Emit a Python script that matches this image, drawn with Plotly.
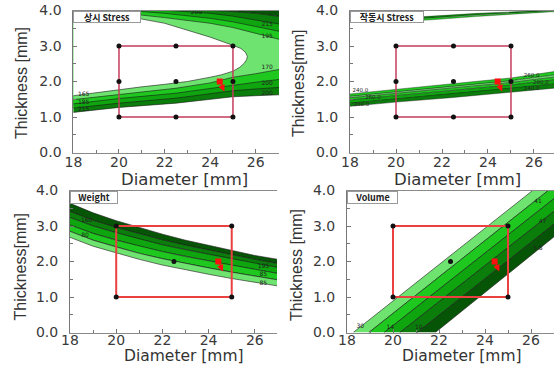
import plotly.graph_objects as go

# ---------------- colours ----------------
LIGHT = '#6fe36f'
BRIGHT = '#1fc81f'
MID = '#0fa50f'
DARK = '#0b7d0b'
DARKEST = '#065506'
EDGE = '#1a1a1a'

# ---------------- axis ticks ----------------
xtick_vals = [18, 20, 22, 24, 26]
xtick_text = ['18', '20', '22', '24', '26']
ytick_vals = [0, 1, 2, 3, 4]
ytick_text = ['0.0', '1.0', '2.0', '3.0', '4.0']

# ---------------- panel titles ----------------
panel_titles = ['상시 Stress', '작동시 Stress', 'Weight', 'Volume']
ytitles = ['Thickness [mm]', 'Thickness[mm]', 'Thickness[mm]', 'Thickness [mm]']
xtitle = 'Diameter [mm]'

# ---------------- design points ----------------
box_x = [20, 25]
box_y = [1, 3]
grid_x_top = [20, 22.5, 25, 20, 22.5, 25, 20, 22.5, 25]
grid_y_top = [1, 1, 1, 2, 2, 2, 3, 3, 3]
grid_x_bot = [20, 25, 22.5, 20, 25]
grid_y_bot = [1, 1, 2, 3, 3]
opt_x = [24.42]
opt_y = [2.0]
opt_arrow_x = [24.45, 24.62]
opt_arrow_y = [1.96, 1.72]

# ---------------- panel 1 : 상시 Stress (C-shaped contours) ----------------
p1_c0_x = [18, 19, 20, 21, 22, 22.5, 23, 24, 24.5, 25, 25.3, 25.5, 25.6, 25.63, 25.55, 25.35,
           25.0, 24, 23, 22, 21, 20, 19.3]
p1_c0_y = [1.60, 1.69, 1.78, 1.85, 1.92, 1.95, 2.00, 2.12, 2.19, 2.29, 2.40, 2.52, 2.62, 2.71, 2.82, 2.93,
           3.02, 3.25, 3.45, 3.64, 3.76, 3.88, 4.0]
p1_c1_lo_x = [18, 20, 22.5, 24, 25, 26, 27.2]
p1_c1_lo_y = [1.49, 1.64, 1.81, 1.96, 2.12, 2.22, 2.36]
p1_c1_up_x = [27.2, 26, 25, 24, 23, 22, 21, 20, 19.5]
p1_c1_up_y = [3.16, 3.36, 3.52, 3.64, 3.73, 3.80, 3.87, 3.95, 4.0]
p1_c2_lo_x = [18, 20, 22.5, 25, 26, 27.2]
p1_c2_lo_y = [1.37, 1.52, 1.67, 1.90, 1.98, 2.07]
p1_c2_up_x = [27.2, 26, 25, 24, 23, 22, 21, 20.5]
p1_c2_up_y = [3.39, 3.55, 3.68, 3.78, 3.86, 3.92, 3.97, 4.0]
p1_c3_lo_x = [18, 20, 22.5, 25, 26, 27.2]
p1_c3_lo_y = [1.25, 1.39, 1.53, 1.74, 1.79, 1.84]
p1_c3_up_x = [27.2, 26, 25, 24, 23, 22.2]
p1_c3_up_y = [3.60, 3.74, 3.84, 3.92, 3.97, 4.0]
p1_c4_lo_x = [18, 20, 22.5, 25, 26, 27.2]
p1_c4_lo_y = [1.13, 1.27, 1.39, 1.57, 1.60, 1.63]
p1_c4_up_x = [27.2, 26, 25, 24.2]
p1_c4_up_y = [3.82, 3.92, 3.97, 4.0]
p1_lab_x = [18.45, 18.45, 18.45, 26.5, 26.5, 26.5, 26.5, 26.5, 23.4]
p1_lab_y = [1.62, 1.40, 1.22, 3.60, 3.27, 2.40, 1.93, 1.67, 3.93]
p1_lab_t = ['165', '185', '215', '215', '195', '170', '200', '200', '200']

# ---------------- panel 2 : 작동시 Stress (straight bands) ----------------
p2_x = [18, 20, 22.5, 25, 27.2]
p2_d0 = [1.65, 1.78, 1.95, 2.10, 2.31]
p2_d1 = [1.58, 1.71, 1.87, 2.02, 2.21]
p2_d2 = [1.54, 1.67, 1.82, 1.97, 2.15]
p2_d3 = [1.48, 1.60, 1.75, 1.90, 2.07]
p2_d4 = [1.39, 1.51, 1.65, 1.80, 1.95]
p2_d5 = [1.30, 1.42, 1.55, 1.69, 1.83]
p2_e_x = [20.5, 21.6, 23.5, 25.3, 27.2]
p2_e_bot = [3.70, 3.74, 3.83, 3.91, 3.98]
p2_e_mid = [3.75, 3.79, 3.87, 3.94, 4.00]
p2_e_top = [3.80, 3.85, 3.92, 3.97, 4.03]
p2_lab_x = [18.45, 19.0, 18.5, 25.9, 26.3, 25.9]
p2_lab_y = [1.74, 1.545, 1.35, 2.17, 1.98, 1.79]
p2_lab_t = ['240.0', '260.0', '280.0', '260.0', '280.0', '140.0']

# ---------------- panel 3 : Weight ----------------
p3_x = [18, 19, 20, 21, 22, 23, 24, 25, 26, 27.1]
p3_w0 = [3.64, 3.37, 3.15, 2.95, 2.77, 2.60, 2.45, 2.30, 2.17, 2.05]
p3_w1 = [3.41, 3.16, 2.96, 2.78, 2.61, 2.46, 2.32, 2.19, 2.06, 1.93]
p3_w2 = [3.24, 3.00, 2.81, 2.63, 2.47, 2.33, 2.20, 2.07, 1.94, 1.82]
p3_w3 = [3.03, 2.79, 2.60, 2.43, 2.28, 2.14, 2.02, 1.89, 1.77, 1.65]
p3_w4 = [2.85, 2.60, 2.41, 2.23, 2.08, 1.94, 1.82, 1.70, 1.58, 1.47]
p3_w5 = [2.68, 2.43, 2.24, 2.06, 1.90, 1.76, 1.64, 1.52, 1.41, 1.30]
p3_lab_x = [18.72, 18.65, 26.37, 26.37, 26.37]
p3_lab_y = [3.15, 2.72, 1.87, 1.62, 1.37]
p3_lab_t = ['160', '80', '195', '85', '85']

# ---------------- panel 4 : Volume (diagonal bands) ----------------
p4_y = [0, 4]
p4_v0 = [18.27, 26.07]
p4_v1 = [18.95, 26.75]
p4_v2 = [19.62, 27.45]
p4_v3 = [20.30, 28.15]
p4_v4 = [21.05, 28.85]
p4_v5 = [21.84, 29.50]
p4_lab_x = [18.58, 19.88, 21.12, 26.3, 26.5, 26.3]
p4_lab_y = [0.18, 0.13, 0.13, 3.68, 3.12, 2.37]
p4_lab_t = ['30', '14', '10', '41', '47', '5.8']

fig = go.Figure()


def poly(xs, ys, color, xa, ya, lw=0.6):
    fig.add_trace(go.Scatter(x=xs, y=ys, fill='toself', fillcolor=color, mode='lines',
                             line=dict(color=EDGE, width=lw), xaxis=xa, yaxis=ya,
                             hoverinfo='skip', showlegend=False))


def band_between(xt, yt, xb, yb, color, xa, ya, lw=0.6):
    poly(list(xt) + list(xb)[::-1], list(yt) + list(yb)[::-1], color, xa, ya, lw)


TOP_OUT = 4.6
LEFT_OUT = 17.0

# ---- panel 1 ----
xs = p1_c4_up_x + [p1_c4_up_x[-1], 27.6, 27.6]
ys = p1_c4_up_y + [TOP_OUT, TOP_OUT, p1_c4_up_y[0]]
poly(xs, ys, DARKEST, 'x', 'y')
for lo_x, lo_y, up_x, up_y, col in [
        (p1_c4_lo_x, p1_c4_lo_y, p1_c4_up_x, p1_c4_up_y, DARK),
        (p1_c3_lo_x, p1_c3_lo_y, p1_c3_up_x, p1_c3_up_y, MID),
        (p1_c2_lo_x, p1_c2_lo_y, p1_c2_up_x, p1_c2_up_y, BRIGHT),
        (p1_c1_lo_x, p1_c1_lo_y, p1_c1_up_x, p1_c1_up_y, LIGHT)]:
    xs = lo_x + up_x + [up_x[-1], LEFT_OUT, LEFT_OUT]
    ys = lo_y + up_y + [TOP_OUT, TOP_OUT, lo_y[0]]
    poly(xs, ys, col, 'x', 'y')
xs = p1_c0_x + [p1_c0_x[-1], LEFT_OUT, LEFT_OUT]
ys = p1_c0_y + [TOP_OUT, TOP_OUT, p1_c0_y[0]]
poly(xs, ys, 'white', 'x', 'y')

# ---- panel 2 ----
d = [p2_d0, p2_d1, p2_d2, p2_d3, p2_d4, p2_d5]
p2_cols = [BRIGHT, LIGHT, BRIGHT, MID, DARK]
for k in range(5):
    band_between(p2_x, d[k], p2_x, d[k + 1], p2_cols[k], 'x2', 'y2', 0.4)
band_between(p2_e_x, p2_e_top, p2_e_x, p2_e_mid, DARK, 'x2', 'y2', 0.3)
band_between(p2_e_x, p2_e_mid, p2_e_x, p2_e_bot, BRIGHT, 'x2', 'y2', 0.3)

# ---- panel 3 ----
w = [p3_w0, p3_w1, p3_w2, p3_w3, p3_w4, p3_w5]
p3_cols = [DARKEST, DARK, MID, BRIGHT, LIGHT]
for k in range(5):
    band_between(p3_x, w[k], p3_x, w[k + 1], p3_cols[k], 'x3', 'y3')

# ---- panel 4 ----
v = [p4_v0, p4_v1, p4_v2, p4_v3, p4_v4, p4_v5]
p4_cols = [LIGHT, BRIGHT, MID, DARK, DARKEST]
for k in range(5):
    band_between(v[k], p4_y, v[k + 1], p4_y, p4_cols[k], 'x4', 'y4')

# ---- contour labels ----
for lx, ly, lt, xa, ya, fs in [(p1_lab_x, p1_lab_y, p1_lab_t, 'x', 'y', 6),
                               (p2_lab_x, p2_lab_y, p2_lab_t, 'x2', 'y2', 5.5),
                               (p3_lab_x, p3_lab_y, p3_lab_t, 'x3', 'y3', 6),
                               (p4_lab_x, p4_lab_y, p4_lab_t, 'x4', 'y4', 6)]:
    fig.add_trace(go.Scatter(x=lx, y=ly, text=lt, mode='text', xaxis=xa, yaxis=ya,
                             textfont=dict(size=fs, color='#222222', family='DejaVu Sans'),
                             hoverinfo='skip', showlegend=False))

# ---- design boxes, points, optimum ----
rect_x = [box_x[0], box_x[1], box_x[1], box_x[0], box_x[0]]
rect_y = [box_y[0], box_y[0], box_y[1], box_y[1], box_y[0]]
for i, (xa, ya) in enumerate([('x', 'y'), ('x2', 'y2'), ('x3', 'y3'), ('x4', 'y4')]):
    top = i < 2
    fig.add_trace(go.Scatter(x=rect_x, y=rect_y, mode='lines', xaxis=xa, yaxis=ya,
                             line=dict(color='#c43c5e' if top else '#ea4040', width=1.5 if top else 2),
                             hoverinfo='skip', showlegend=False))
    fig.add_trace(go.Scatter(x=grid_x_top if top else grid_x_bot,
                             y=grid_y_top if top else grid_y_bot, mode='markers',
                             xaxis=xa, yaxis=ya, marker=dict(color='#111111', size=5),
                             hoverinfo='skip', showlegend=False))
    fig.add_trace(go.Scatter(x=opt_x, y=opt_y, mode='markers', xaxis=xa, yaxis=ya,
                             marker=dict(color='#ff1010', size=6, symbol='square'),
                             hoverinfo='skip', showlegend=False))
    fig.add_annotation(x=opt_arrow_x[1], y=opt_arrow_y[1], ax=opt_arrow_x[0], ay=opt_arrow_y[0],
                       xref=xa, yref=ya, axref=xa, ayref=ya, showarrow=True, text='',
                       arrowhead=2, arrowsize=0.9, arrowwidth=1.5, arrowcolor='#ff1010')

# ---------------- layout ----------------
W, H = 554, 365
tickfont = dict(family='DejaVu Sans', size=14, color='#3a3a3a')


def xaxis(dom, rng, anchor, standoff):
    return dict(domain=dom, range=rng, anchor=anchor, tickvals=xtick_vals, ticktext=xtick_text,
                ticks='inside', ticklen=4, tickcolor='#777', showline=True, linecolor='#8a8a8a',
                linewidth=1, mirror=True, showgrid=False, zeroline=False, tickfont=tickfont,
                ticklabelstandoff=standoff, automargin=False,
                minor=dict(dtick=1, tick0=18, ticks='inside', ticklen=3, tickcolor='#777'))


def yaxis(dom, anchor):
    return dict(domain=dom, range=[0, 4], anchor=anchor, tickvals=ytick_vals, ticktext=ytick_text,
                ticks='inside', ticklen=4, tickcolor='#777', showline=True, linecolor='#777',
                linewidth=1, showgrid=False, zeroline=False, tickfont=tickfont,
                ticklabelstandoff=8, automargin=False,
                minor=dict(dtick=0.5, tick0=0, ticks='inside', ticklen=3, tickcolor='#777'))


ytop = [1 - 152.5 / H, 1 - 10.5 / H]
ybot = [1 - 332.5 / H, 1 - 190.5 / H]
fig.update_layout(
    width=W, height=H, margin=dict(l=0, r=0, t=0, b=0, pad=0), autosize=False,
    paper_bgcolor='white', plot_bgcolor='white', showlegend=False,
    xaxis=xaxis([73.4 / W, 279 / W], [18, 27.02], 'y', -3),
    yaxis=yaxis(ytop, 'x'),
    xaxis2=xaxis([350 / W, 1.0], [18, 26.87], 'y2', -3),
    yaxis2=yaxis(ytop, 'x2'),
    xaxis3=xaxis([70 / W, 277 / W], [18, 26.96], 'y3', -5),
    yaxis3=yaxis(ybot, 'x3'),
    xaxis4=xaxis([347 / W, 1.0], [18, 27.0], 'y4', -5),
    yaxis4=yaxis(ybot, 'x4'),
)

# axis titles
ytitle_pos = [(21, 83), (298, 83), (19.5, 267), (296, 265)]
xtitle_pos = [(184, 179), (457, 179), (183.5, 356), (462, 356)]
for t, (px, py) in zip(ytitles, ytitle_pos):
    fig.add_annotation(text=t, x=px / W, y=1 - py / H, xref='paper', yref='paper', showarrow=False,
                       xanchor='center', yanchor='middle', textangle=-90,
                       font=dict(family='Liberation Sans', size=16, color='#333333'))
for j, (px, py) in enumerate(xtitle_pos):
    fig.add_annotation(text=xtitle, x=px / W, y=1 - py / H, xref='paper', yref='paper', showarrow=False,
                       xanchor='center', yanchor='middle',
                       font=dict(family='DejaVu Sans', size=16.5 if j < 2 else 15.5, color='#333333'))

# panel label boxes
box_w = [66, 72, 46, 49]
box_h = [10, 10, 11, 11]
for i, t in enumerate(panel_titles):
    sfx = '' if i == 0 else str(i + 1)
    fig.add_annotation(text='<b>' + t + '</b>', x=0, y=1, xref='x' + sfx + ' domain', yref='y' + sfx + ' domain',
                       xanchor='left', yanchor='top', showarrow=False, width=box_w[i], height=box_h[i],
                       bgcolor='white', bordercolor='#9a9a9a', borderwidth=1, borderpad=0,
                       font=dict(family='Noto Sans CJK KR', size=9, color='#222222'))

fig.write_html('out.html', config={'displayModeBar': False},
               post_script="document.body.style.margin='0';document.body.style.overflow='hidden';")
